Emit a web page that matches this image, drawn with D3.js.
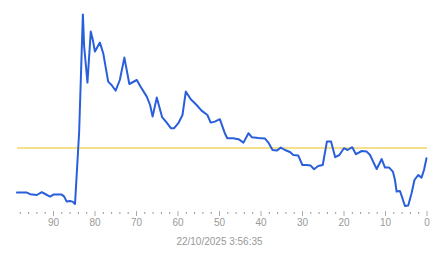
<!DOCTYPE html>
<html><head><meta charset="utf-8">
<script src="https://cdn.jsdelivr.net/npm/d3@7"></script>
<style>
html,body{margin:0;padding:0;background:#fff;}
svg{display:block;font-family:Arial,"Liberation Sans",sans-serif;}
</style></head>
<body><svg id="c" width="443" height="258"></svg>
<script>
// minutes ago (x) and value (y)
const minutesAgo = [98.7,96.3,95.5,93.9,92.7,91.9,90.7,89.9,87.9,87.3,86.7,85.9,85.3,84.7,84.5,83.7,82.8,82.5,81.7,80.9,80.4,79.9,78.7,77.9,76.7,75.9,74.9,73.9,72.8,71.6,69.8,69.0,67.4,66.6,66.0,65.0,63.7,62.6,61.6,60.8,59.8,58.8,58.0,56.8,55.4,54.2,52.8,52.0,51.0,49.8,48.6,48.0,46.6,45.3,44.1,42.9,42.1,40.5,38.9,38.1,37.1,36.1,35.1,34.1,32.9,32.1,30.9,29.9,28.9,27.9,27.1,26.1,25.0,24.0,23.0,22.0,21.0,19.9,19.0,17.9,17.0,15.6,14.4,13.6,12.8,12.0,10.8,10.0,9.0,8.1,7.6,7.2,6.4,5.8,5.2,4.4,3.6,2.9,2.0,1.2,0.6,0];
const values = [9.7,9.7,8.9,8.5,9.9,9.0,7.7,8.7,8.7,7.7,5.2,5.5,5.2,4.0,11,40,98.8,83,64.7,90.2,86,80.2,84.7,79.4,65.2,63.5,60.7,66,77.2,64,66,63,57.7,53.5,47.7,57.2,47.4,44.7,41.9,41.9,44.4,48.5,60.2,56.4,53.5,50.7,48.5,44.7,45.2,46.4,39.4,36.9,36.9,36.4,34.7,39.4,37.4,37,36.7,34.7,31,30.7,32.2,31,30,28.5,28.2,23.5,23.5,23.2,21.4,23,23.5,35.2,35.2,27.4,28.5,31.9,31,32.4,28.9,30.5,30.2,28.5,24.9,21.5,26.5,22.2,22.2,20.2,16,10.2,10.5,6.9,3,3.2,9.4,16,18.5,17.2,21,26.9];
const referenceValue = [32.7];
const majorTicks = [90,80,70,60,50,40,30,20,10,0];
const minorTicks = [98,96,94,92,88,86,84,82,78,76,74,72,68,66,64,62,58,56,54,52,48,46,44,42,38,36,34,32,28,26,24,22,18,16,14,12,8,6,4,2];
const timestampLabel = "22/10/2025 3:56:35";

const svg = d3.select("#c");
const x = d3.scaleLinear().domain([0,100]).range([426.5,11.5]);
const y = d3.scaleLinear().domain([0,100]).range([212,12]);

// reference line
svg.selectAll("rect.ref").data(referenceValue).join("rect")
  .attr("class","ref")
  .attr("x",x(98.7)).attr("width",x(0)-x(98.7))
  .attr("y",d=>Math.round(y(d))).attr("height",2)
  .attr("fill","#f7e08c").attr("shape-rendering","crispEdges");

// data line
const pts = minutesAgo.map((m,i)=>[m,values[i]]);
svg.append("path").datum(pts)
  .attr("fill","none").attr("stroke","#2a5fdb").attr("stroke-width",2)
  .attr("stroke-linejoin","round").attr("stroke-linecap","round")
  .attr("d",d3.line().x(d=>x(d[0])).y(d=>y(d[1])));

// minor ticks
const minorAxis = d3.axisBottom(x).tickValues(minorTicks).tickSize(2).tickFormat("");
const gMinor = svg.append("g").attr("transform","translate(0,212)").call(minorAxis);
gMinor.select(".domain").remove();
gMinor.selectAll(".tick line").attr("stroke","#999");

// major ticks
const majorAxis = d3.axisBottom(x).tickValues(majorTicks).tickSize(5).tickPadding(3).tickFormat(d3.format("d"));
const gMajor = svg.append("g").attr("transform","translate(0,211)").call(majorAxis);
gMajor.select(".domain").remove();
gMajor.selectAll(".tick line").attr("stroke","#aaa");
gMajor.selectAll(".tick text").attr("fill","#999").attr("font-size",10)
  .attr("font-family","Arial,'Liberation Sans',sans-serif");

svg.append("text").attr("x",219.5).attr("y",245).attr("text-anchor","middle")
  .attr("fill","#999").attr("font-size",10).text(timestampLabel);
</script></body></html>
